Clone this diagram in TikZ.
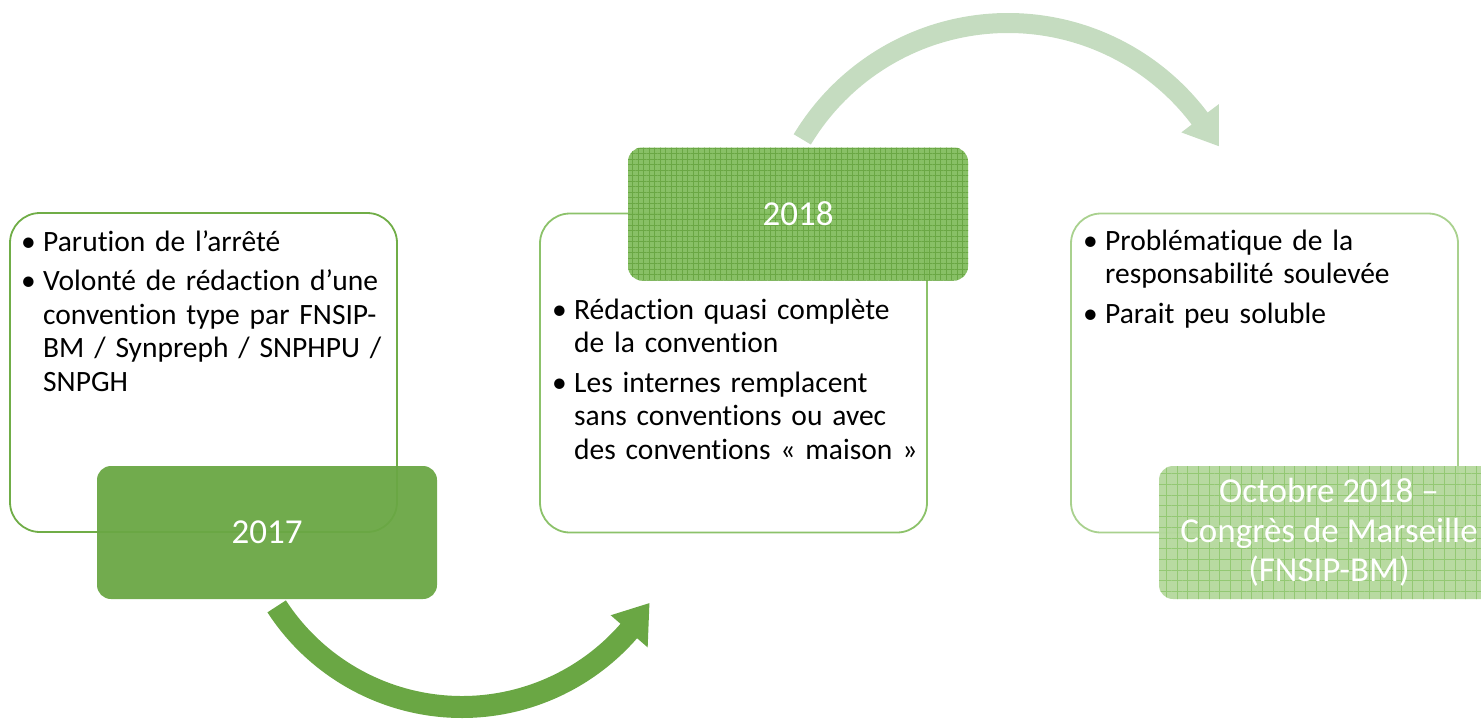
\documentclass[tikz,border=0pt]{standalone}
\usepackage{fontspec}
\setmainfont{Carlito}[Ligatures=NoCommon]
\usetikzlibrary{calc,patterns.meta}

\definecolor{vertfonce}{HTML}{6AA744}
\definecolor{vertmoyen}{HTML}{82BD5E}
\definecolor{vertclair}{HTML}{B4D89C}
\definecolor{vertgrille}{HTML}{93C873}
\definecolor{vertpale}{HTML}{C5DCC0}
\definecolor{bordun}{HTML}{70AD47}
\definecolor{borddeux}{HTML}{8CC26A}
\definecolor{bordtrois}{HTML}{A9D18E}

\newcommand{\puce}{\noindent\makebox[22pt][l]{\textbullet}}
\newcommand{\autre}{\par\vspace{6.2pt}\noindent\makebox[22pt][l]{\textbullet}}
\newcommand{\suite}{\par\noindent\hspace*{22pt}}

\tikzset{
	boite/.style={draw, line width=1.8pt, rounded corners=30pt, fill=white, minimum width=387pt, minimum height=319pt, inner sep=0pt},
	texte/.style={anchor=north west, text width=390pt, align=left, inner sep=0pt, font=\fontsize{29.5}{33.5}\selectfont},
	etiquette/.style={rounded corners=14pt, minimum width=340pt, minimum height=133pt, inner sep=0pt, text=white, fill opacity=0.95, text opacity=1, align=center, font=\fontsize{35}{39.5}\selectfont}
}

\begin{document}
\begin{tikzpicture}[x=1pt, y=-1pt]
			\useasboundingbox (0,0) rectangle (1481,720);
			
			\node[boite, draw=bordun] (b1) at (203.5, 372.5) {};
			\node[boite, draw=borddeux] (b2) at (733.5, 373) {};
			\node[boite, draw=bordtrois] (b3) at (1264.5, 373) {};
			
			\node[texte] (t1) at (21, 227.5) {\puce\strut Parution de l’arrêté
				\autre Volonté de rédaction d’une\suite convention type par FNSIP-\suite BM / Synpreph / SNPHPU /\suite SNPGH};
			\node[texte] (t2) at (552, 295.5) {\puce\strut Rédaction quasi complète\suite de la convention
				\autre Les internes remplacent\suite sans conventions ou avec\suite des conventions « maison »};
			\node[texte] (t3) at (1083, 226.5) {\puce\strut Problématique de la\suite responsabilité soulevée
				\autre Parait peu soluble};
			
			\coordinate (c1) at (462, 486);
			\fill[vertfonce] ($(c1)+(147:232)$) arc[start angle=147, end angle=41, radius=232]
				-- ($(c1)+(41:246)$) -- ($(c1)+(32:221)$) -- ($(c1)+(41:197)$)
				-- ($(c1)+(41:210)$) arc[start angle=41, end angle=147, radius=210] -- cycle;
			
			\coordinate (c2) at (1008, 263);
			\fill[vertpale] ($(c2)+(211:250)$) arc[start angle=211, end angle=323, radius=250]
				-- ($(c2)+(323:264)$) -- ($(c2)+(331:241)$) -- ($(c2)+(323:217)$)
				-- ($(c2)+(323:230)$) arc[start angle=323, end angle=211, radius=230] -- cycle;
			
			\node[etiquette, fill=vertfonce] (e1) at (267, 532.5) {2017};
			\node[etiquette, preaction={fill=vertmoyen}, pattern={Hatch[angle=0, distance=5.5pt, line width=0.6pt]}, pattern color=vertfonce] (e2) at (798, 214) {2018};
			\node[etiquette, preaction={fill=vertclair}, pattern={Hatch[angle=0, distance=10.7pt, line width=1pt]}, pattern color=vertgrille] (e3) at (1329, 532.5) {Octobre 2018 –\\Congrès de Marseille\\(FNSIP-BM)};
		\end{tikzpicture}
\end{document}
